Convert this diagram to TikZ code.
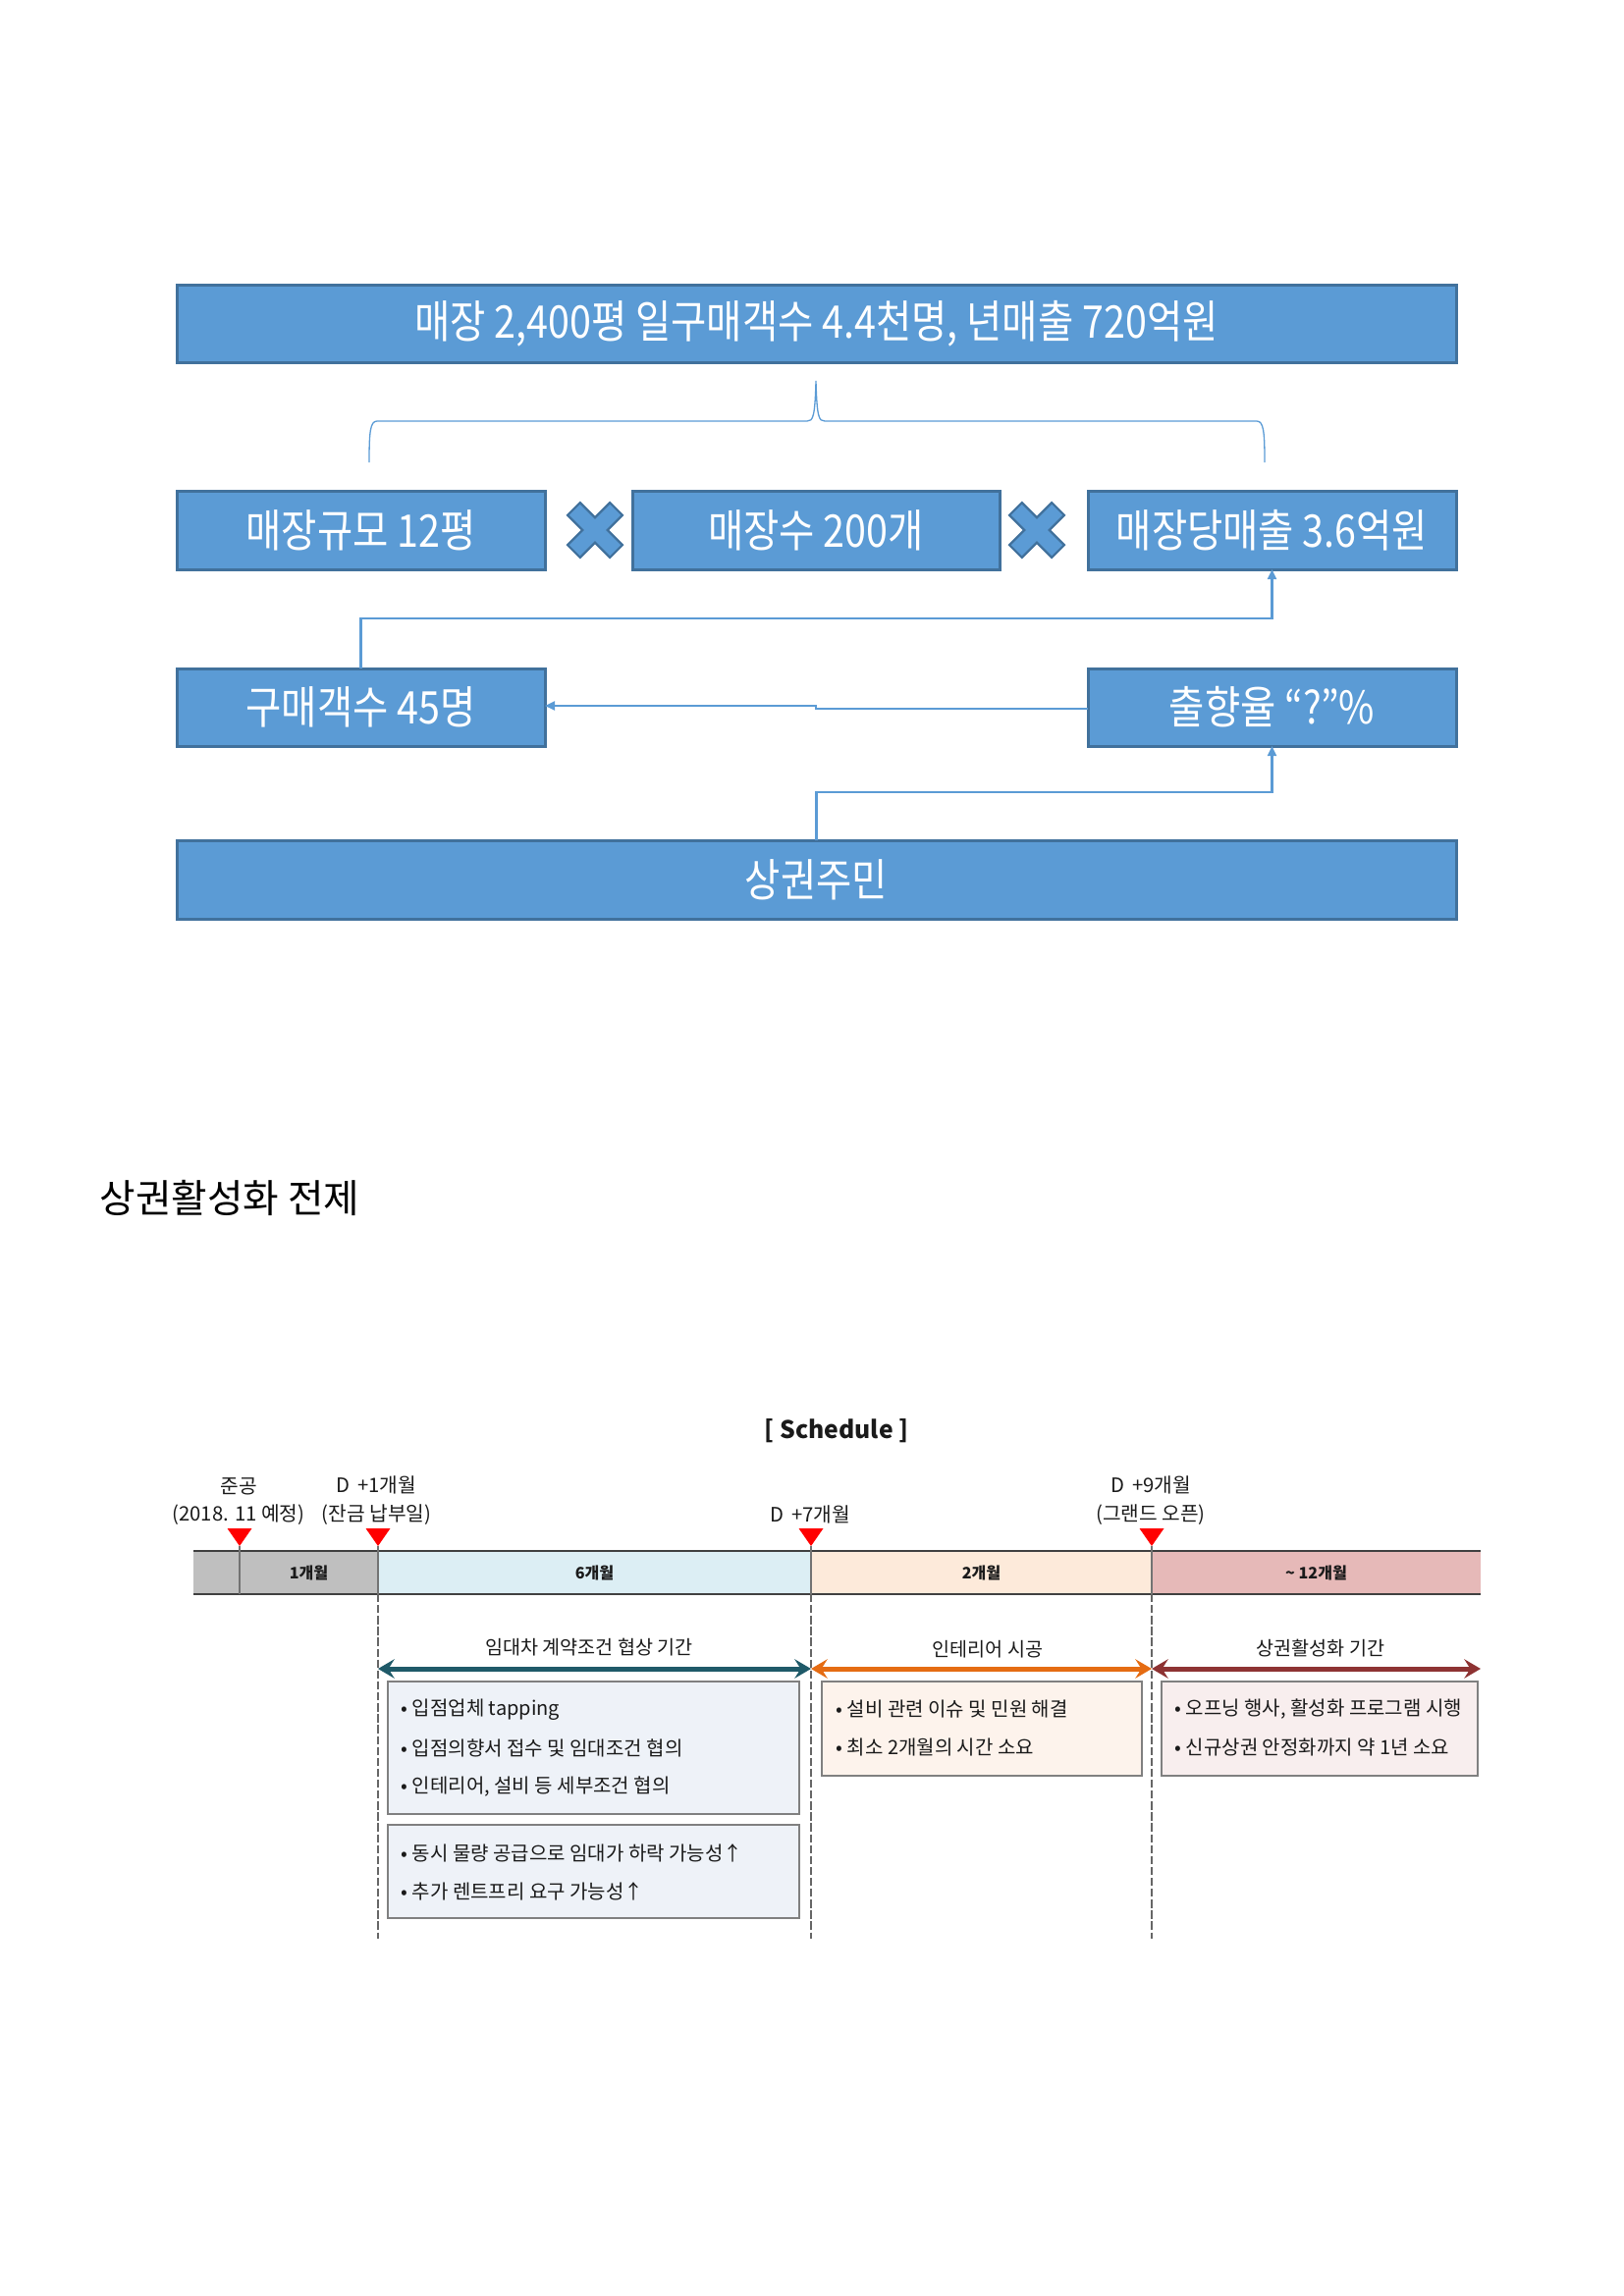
\documentclass[tikz,border=0pt]{standalone}
\usepackage{fontspec}
\setmainfont{Noto Sans CJK KR}
\newfontfamily\krn[FakeStretch=0.86]{Noto Sans CJK KR}
\usetikzlibrary{arrows.meta,calc}
\newcommand{\PX}{0.3599pt}
\definecolor{bfill}{HTML}{5B9BD5}
\definecolor{bline}{HTML}{41719C}
\definecolor{segGray}{HTML}{BFBFBF}
\definecolor{segBlue}{HTML}{DCEEF4}
\definecolor{segPeach}{HTML}{FDEADA}
\definecolor{segPink}{HTML}{E6B9B8}
\definecolor{boxA}{HTML}{EEF2F8}
\definecolor{boxB}{HTML}{FDF3EC}
\definecolor{boxC}{HTML}{F8EEEE}
\definecolor{boxLine}{HTML}{808080}
\definecolor{arTeal}{HTML}{1F5A69}
\definecolor{arOrange}{HTML}{E56C13}
\definecolor{arRed}{HTML}{8E3333}
\definecolor{txt}{HTML}{1A1A1A}
\begin{document}
\begin{tikzpicture}[x=\PX,y=-\PX,
  bbox/.style={draw=bline,line width=3*\PX,fill=bfill,text=white,inner sep=0pt,outer sep=0pt,
    font=\krn\fontsize{16.5}{19}\selectfont},
  conn/.style={draw=bfill,line width=2.2*\PX},
  tipA/.style={-{Triangle[length=3.6pt,width=3.2pt]}},
  bracepath/.style={draw=bfill,line width=1.3*\PX},
  xshape/.style={fill=bfill,draw=bline,line width=2.2*\PX},
  seg/.style={inner sep=0pt,outer sep=0pt,minimum height=44*\PX,text=txt,
    font=\bfseries\fontsize{5.8}{7}\selectfont},
  barline/.style={draw=black!75,line width=2*\PX},
  divline/.style={draw=black!55,line width=1.2*\PX},
  vdash/.style={draw=black!60,line width=1.2*\PX,dash pattern=on 3pt off 1pt},
  redtri/.style={fill=red},
  lab/.style={inner sep=0pt,text=txt,font=\fontsize{7.3}{8.5}\selectfont},
  head/.style={inner sep=0pt,text=txt,font=\fontsize{7.05}{8.5}\selectfont},
  itm/.style={inner sep=0pt,anchor=west,text=txt,font=\fontsize{7.2}{8.5}\selectfont},
  sbox/.style={draw=boxLine,line width=1.6*\PX,inner sep=0pt,outer sep=0pt},
  dbl/.style={line width=5*\PX,{Stealth[length=6pt,width=7pt,inset=2.2pt]}-{Stealth[length=6pt,width=7pt,inset=2.2pt]}}
]
\useasboundingbox (0,0) rectangle (1654,2339);

% ---------- upper diagram ----------
\node[bbox,minimum width=1303*\PX,minimum height=79*\PX] (top) at (831.5,329.5) {매장 2,400평 일구매객수 4.4천명, 년매출 720억원};
\node[bbox,minimum width=375*\PX,minimum height=80*\PX] (r1) at (367.5,540) {매장규모 12평};
\node[bbox,minimum width=374*\PX,minimum height=80*\PX] (r2) at (831,540) {매장수 200개};
\node[bbox,minimum width=375*\PX,minimum height=80*\PX] (r3) at (1295.5,540) {매장당매출 3.6억원};
\node[bbox,minimum width=375*\PX,minimum height=79*\PX] (buy) at (367.5,720.5) {구매객수 45명};
\node[bbox,minimum width=375*\PX,minimum height=79*\PX] (out) at (1295.5,720.5) {출향율 “?”\%};
\node[bbox,minimum width=1303*\PX,minimum height=80*\PX] (res) at (831.5,896) {상권주민};

% brace
\draw[bracepath] (376,471) .. controls (376,440) and (377,429) .. (384,429) -- (822,429)
  .. controls (828,429) and (830,425) .. (831,388)
  .. controls (832,425) and (834,429) .. (840,429) -- (1280,429)
  .. controls (1287,429) and (1288,440) .. (1288,471);

% multiply marks
\coordinate (x1) at (606,540);
\coordinate (x2) at (1056,540);
\foreach \c in {x1,x2}{
  \draw[xshape,shift={(\c)},rotate=45] (9,9) -- (30.5,9) -- (30.5,-9) -- (9,-9) -- (9,-30.5) -- (-9,-30.5)
    -- (-9,-9) -- (-30.5,-9) -- (-30.5,9) -- (-9,9) -- (-9,30.5) -- (9,30.5) -- cycle;
}

% connectors
\coordinate (j1) at (367.5,630);
\draw[conn,tipA] (buy.north) -- (j1) -| (r3.south);
\coordinate (m1) at (831,719);
\draw[conn,tipA] ([yshift=-0.5pt]out.west) -| (m1) -- (m1 -| buy.east);
\coordinate (j2) at (1295.5,807);
\draw[conn,tipA] (res.north) |- (j2) -- (out.south);

% ---------- title ----------
\node[anchor=west,inner sep=0pt,font=\fontsize{14.3}{16}\selectfont] (title) at (101,1220) {상권활성화 전제};

% ---------- schedule ----------
\node[inner sep=0pt,text=txt,font=\bfseries\fontsize{8.9}{10.5}\selectfont] (sched) at (852,1458) {[ Schedule ]};

\node[seg,fill=segGray,minimum width=47*\PX] (s0) at (220.5,1602) {};
\node[seg,fill=segGray,minimum width=141*\PX] (s1) at (314.5,1602) {1개월};
\node[seg,fill=segBlue,minimum width=441*\PX] (s2) at (605.5,1602) {6개월};
\node[seg,fill=segPeach,minimum width=347*\PX] (s3) at (999.5,1602) {2개월};
\node[seg,fill=segPink,minimum width=335*\PX] (s4) at (1340.5,1602) {\textasciitilde{} 12개월};
\draw[barline] (s0.north west) -- (s4.north east);
\draw[barline] (s0.south west) -- (s4.south east);

% triangles
\foreach \n in {s1,s2,s3,s4}{
  \fill[redtri] ($(\n.north west)+(-12.5,-23)$) -- ($(\n.north west)+(12.5,-23)$) -- ($(\n.north west)+(0,-5)$) -- cycle;
}
% dividers
\draw[divline] ($(s1.north west)+(0,-5)$) -- (s1.south west);
\coordinate (bot) at (0,1975);
\foreach \n in {s2,s3,s4}{
  \draw[divline] ($(\n.north west)+(0,-5)$) -- (\n.south west);
  \draw[vdash] (\n.south west) -- (\n.south west |- bot);
}

% milestone labels
\node[lab] (m0a) at (243,1514) {준공};
\node[lab] (m0b) at (243,1543) {(2018. 11 예정)};
\node[lab] (m1a) at (383,1513) {D\, +1개월};
\node[lab] (m1b) at (383.5,1543) {(잔금 납부일)};
\node[lab] (m2a) at (825,1543) {D\, +7개월};
\node[lab] (m3a) at (1172,1513) {D\, +9개월};
\node[lab] (m3b) at (1172,1543) {(그랜드 오픈)};

% phase arrows
\coordinate (ay) at (0,1700);
\draw[dbl,draw=arTeal,fill=arTeal] (s2.south west |- ay) -- (s2.south east |- ay);
\draw[dbl,draw=arOrange,fill=arOrange] (s3.south west |- ay) -- (s3.south east |- ay);
\draw[dbl,draw=arRed,fill=arRed] (s4.south west |- ay) -- (s4.south east |- ay);
\node[head] (h1) at (600,1678) {임대차 계약조건 협상 기간};
\node[head] (h2) at (1006,1680) {인테리어 시공};
\node[head] (h3) at (1345,1679) {상권활성화 기간};

% boxes
\node[sbox,fill=boxA,minimum width=419*\PX,minimum height=135*\PX] (b1) at (604.5,1780.5) {};
\node[sbox,fill=boxA,minimum width=419*\PX,minimum height=95*\PX] (b2) at (604.5,1906.5) {};
\node[sbox,fill=boxB,minimum width=326*\PX,minimum height=96*\PX] (b3) at (1000,1761) {};
\node[sbox,fill=boxC,minimum width=322*\PX,minimum height=96*\PX] (b4) at (1344,1761) {};

\node[itm] (t11) at (408,1742) {• 입점업체 tapping};
\node[itm] (t12) at (408,1781) {• 입점의향서 접수 및 임대조건 협의};
\node[itm] (t13) at (408,1820) {• 인테리어, 설비 등 세부조건 협의};
\node[itm] (t21) at (408,1888) {• 동시 물량 공급으로 임대가 하락 가능성↑};
\node[itm] (t22) at (408,1927) {• 추가 렌트프리 요구 가능성↑};
\node[itm] (t31) at (851,1741) {• 설비 관련 이슈 및 민원 해결};
\node[itm] (t32) at (851,1780) {• 최소 2개월의 시간 소요};
\node[itm] (t41) at (1196,1741) {• 오프닝 행사, 활성화 프로그램 시행};
\node[itm] (t42) at (1196,1780) {• 신규상권 안정화까지 약 1년 소요};
\end{tikzpicture}
\end{document}
